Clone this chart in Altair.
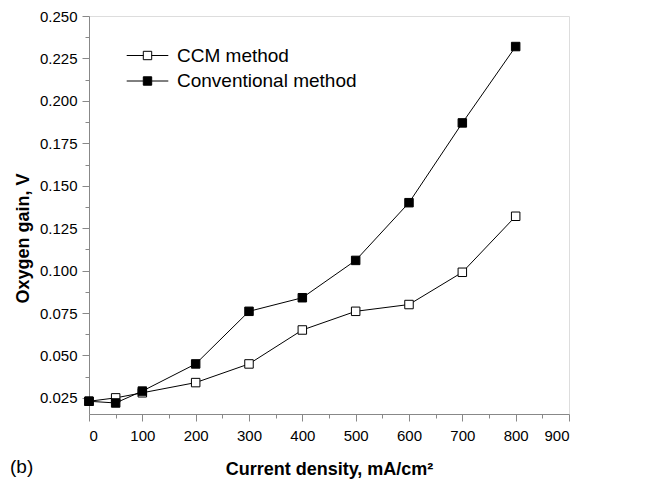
import altair as alt
import pandas as pd

# ---- data ----
current = [0, 50, 100, 200, 300, 400, 500, 600, 700, 800]
ccm_gain = [0.023, 0.025, 0.028, 0.034, 0.045, 0.065, 0.076, 0.080, 0.099, 0.132]
conv_gain = [0.023, 0.022, 0.029, 0.045, 0.076, 0.084, 0.106, 0.140, 0.187, 0.232]
methods = ["CCM method", "Conventional method"]

x_major = [0, 100, 200, 300, 400, 500, 600, 700, 800, 900]
x_minor = [50, 150, 250, 350, 450, 550, 650, 750, 850]
y_major = [0.025, 0.050, 0.075, 0.100, 0.125, 0.150, 0.175, 0.200, 0.225, 0.250]
y_minor = [0.0375, 0.0625, 0.0875, 0.1125, 0.1375, 0.1625, 0.1875, 0.2125, 0.2375]
panel_label = ["(b)"]

df = pd.DataFrame({
    "current": current + current,
    "gain": ccm_gain + conv_gain,
    "method": [methods[0]] * len(current) + [methods[1]] * len(current),
})

FONT = "Liberation Sans"
xscale = alt.Scale(domain=[0, 900], nice=False, zero=False)
yscale = alt.Scale(domain=[0.0155, 0.25], nice=False, zero=False)

base = alt.Chart(df)

lines = base.mark_line(color="black", strokeWidth=1).encode(
    x=alt.X("current:Q", scale=xscale,
            axis=alt.Axis(orient="bottom", values=x_minor, labels=False, domain=False,
                          grid=False, tickSize=4, title=None)),
    y=alt.Y("gain:Q", scale=yscale,
            axis=alt.Axis(orient="left", values=y_minor, labels=False, domain=False,
                          grid=False, tickSize=4, title=None)),
    detail="method:N",
)

legend_symbol = "M-5.2,0H-1.05M1.05,0H5.2M-1.05,-1.05H1.05V1.05H-1.05Z"

points = base.mark_point(shape="square", filled=True, size=72, stroke="black",
                         strokeWidth=1, opacity=1).encode(
    x=alt.X("current:Q", scale=xscale,
            axis=alt.Axis(orient="bottom", values=x_major, tickSize=7, grid=False,
                          labelFontSize=15, labelPadding=7,
                          title="Current density, mA/cm²", titleFontSize=18,
                          titleFontWeight="bold", titleBaseline="alphabetic", titleY=60)),
    y=alt.Y("gain:Q", scale=yscale,
            axis=alt.Axis(orient="left", values=y_major, tickSize=7, grid=False,
                          format=".3f", labelFontSize=15, labelPadding=5,
                          title="Oxygen gain, V", titleFontSize=18, titleFontWeight="bold",
                          titleBaseline="middle", titleX=-66, titleY=222)),
    fill=alt.Fill("method:N",
                  scale=alt.Scale(domain=methods, range=["white", "black"]),
                  legend=alt.Legend(orient="none", legendX=38, legendY=30, title=None,
                                    symbolType=legend_symbol, symbolSize=64,
                                    symbolOffset=11, labelOffset=20, labelFontSize=19,
                                    labelFont=FONT, labelColor="black", rowPadding=5.5,
                                    labelLimit=400,
                                    symbolStrokeColor="black", symbolStrokeWidth=1,
                                    padding=0)),
    order=alt.Order("method:N"),
)

label = alt.Chart(pd.DataFrame({"label": panel_label})).mark_text(
    align="left", baseline="middle", fontSize=19, font=FONT, color="black"
).encode(text="label:N", x=alt.value(-79), y=alt.value(451))

chart = alt.layer(lines, points, label).resolve_axis(
    x="independent", y="independent"
).properties(
    width=480, height=398,
    autosize=alt.AutoSizeParams(type="none"),
    padding={"left": 89, "top": 16, "right": 76, "bottom": 69},
).configure_view(
    stroke="black", strokeWidth=1.5
).configure_axis(
    domainColor="black", domainWidth=1.5, tickColor="black", tickWidth=1.5,
    labelColor="black", titleColor="black", labelFont=FONT, titleFont=FONT,
).configure(background="white")

chart.save("out.html", embed_options={"renderer": "svg", "actions": False})
